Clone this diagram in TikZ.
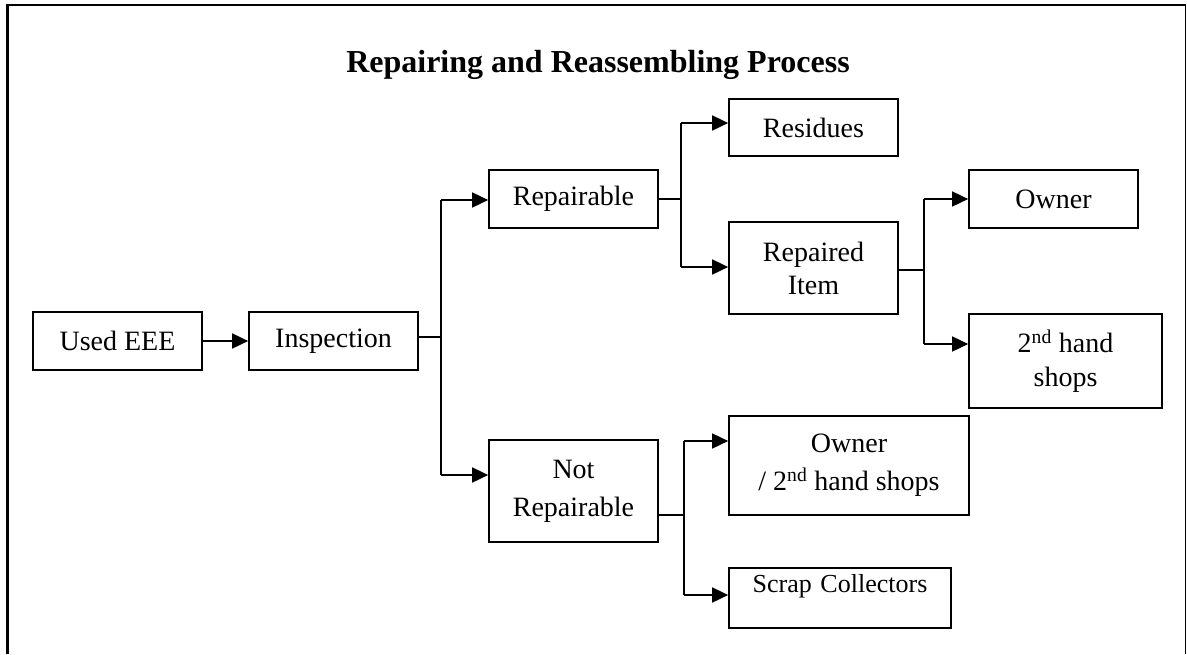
\documentclass[tikz,border=0pt]{standalone}
\usepackage{fontspec}
\setmainfont{Liberation Serif}
\usetikzlibrary{arrows.meta}

\tikzset{
  box/.style={draw, line width=1.7pt, inner sep=0pt, align=center,
              font=\fontsize{28}{36}\selectfont},
  link/.style={line width=1.7pt},
  arr/.style={link, -{Triangle[length=16pt,width=15pt]}},
}

\begin{document}
\begin{tikzpicture}[x=1pt,y=-1pt]
\useasboundingbox (0,0) rectangle (1187,654);

% open frame round the chart
\draw[line width=2.2pt] (7.5,654) -- (7.5,5) -- (1185.5,5);
\draw[line width=1.2pt] (1185.5,5) -- (1185.5,654);

\node[anchor=base, font=\bfseries\fontsize{32}{38}\selectfont] (title) at (598,72.5)
  {Repairing and Reassembling Process};

% boxes
\node[box, minimum width=169, minimum height=58] (used) at (117.5,341) {Used EEE};
\node[box, minimum width=169, minimum height=58] (insp) at (333.5,341) {Inspection};
\node[box, minimum width=169, minimum height=58] (rep)  at (573.5,199) {Repairable};
\node[box, minimum width=169, minimum height=102, font=\fontsize{28}{38}\selectfont] (nrep) at (573.5,491) {Not\\Repairable};
\node[box, minimum width=169, minimum height=57] (res)  at (813.5,127.5) {Residues};
\node[box, minimum width=169, minimum height=92, font=\fontsize{28}{33}\selectfont] (repd) at (813.5,268) {Repaired\\Item};
\node[box, minimum width=169, minimum height=58] (own)  at (1053.5,199) {Owner};
\node[box, minimum width=193, minimum height=94, font=\fontsize{28}{34}\selectfont] (shop) at (1065.5,361) {2\textsuperscript{nd} hand\\shops};
\node[box, minimum width=240, minimum height=99, font=\fontsize{28}{38}\selectfont] (os)   at (849,465.5) {Owner\\/ 2\textsuperscript{nd} hand shops};
\node[box, anchor=north, text width=222, text height=24.7, text depth=35.3,
      font=\fontsize{26}{31}\selectfont] (scrap) at (840,567) {Scrap Collectors};

% junction points of the branching connectors
\coordinate (j0)  at (441,337);
\coordinate (j0a) at (441,200);
\coordinate (j0b) at (441,475);
\coordinate (j1)  at (681,199);
\coordinate (j1a) at (681,123);
\coordinate (j1b) at (681,267);
\coordinate (j2)  at (924,270);
\coordinate (j2a) at (924,199);
\coordinate (j2b) at (924,344);
\coordinate (j3)  at (684,515);
\coordinate (j3a) at (684,441);
\coordinate (j3b) at (684,595);

% connectors
\draw[arr] (used) -- (insp);

\draw[link] (insp.east |- j0) -- (j0);
\draw[link] (j0a) -- (j0b);
\draw[arr] (j0a) -- (j0a -| rep.west);
\draw[arr] (j0b) -- (j0b -| nrep.west);

\draw[link] (rep.east |- j1) -- (j1);
\draw[link] (j1a) -- (j1b);
\draw[arr] (j1a) -- (j1a -| res.west);
\draw[arr] (j1b) -- (j1b -| repd.west);

\draw[link] (repd.east |- j2) -- (j2);
\draw[link] (j2a) -- (j2b);
\draw[arr] (j2a) -- (j2a -| own.west);
\draw[arr] (j2b) -- (j2b -| shop.west);

\draw[link] (nrep.east |- j3) -- (j3);
\draw[link] (j3a) -- (j3b);
\draw[arr] (j3a) -- (j3a -| os.west);
\draw[arr] (j3b) -- (j3b -| scrap.west);
\end{tikzpicture}
\end{document}
